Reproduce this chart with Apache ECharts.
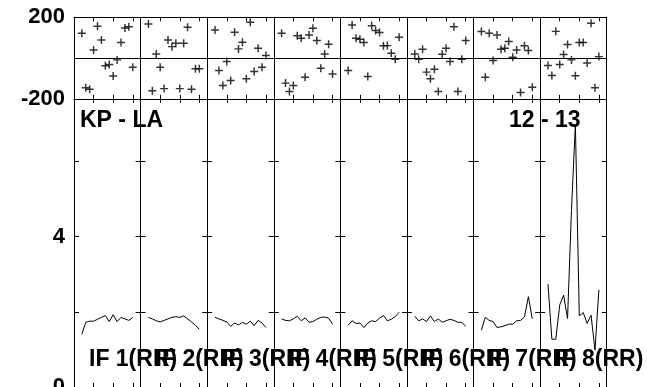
<!DOCTYPE html>
<html>
<head>
<meta charset="utf-8">
<script src="https://cdn.jsdelivr.net/npm/echarts@6/dist/echarts.min.js"></script>
<style>
html, body { margin: 0; padding: 0; background: #fff; }
#main { width: 647px; height: 387px; }
</style>
</head>
<body>
<div id="main"></div>
<script>
// channels plotted in every IF box
var channels = [2, 3, 4, 5, 6, 7, 8, 9, 10, 11, 12, 13, 14, 15];
var ifLabels = ['IF 1(RR)', 'IF 2(RR)', 'IF 3(RR)', 'IF 4(RR)', 'IF 5(RR)', 'IF 6(RR)', 'IF 7(RR)', 'IF 8(RR)'];
var baselineLabel = 'KP - LA';
var timeLabel = '12 - 13';

// phase (degrees) per channel, one array per IF
var phase1 = [122, -146, -153, 40, 156, 89, -38, -32, -88, -9, 76, 148, 154, -45];
var phase2 = [167, -160, 20, -45, -150, 89, 56, 73, -150, 73, 151, -153, -52, -52];
var phase3 = [138, -61, -135, -17, -110, 127, 45, 78, -102, 176, -66, 48, -45, 12];
var phase4 = [122, -123, -164, -135, 109, 97, -94, 113, 146, 86, -50, 20, 68, -78];
var phase5 = [-61, 162, 97, 92, 76, -91, 158, 135, 125, 60, 61, 24, -6, 102];
var phase6 = [20, -6, 43, -69, -102, -55, -164, 19, 48, -17, 154, -164, -6, 86];
var phase7 = [130, -94, 122, -12, 113, 43, 48, 81, 4, 40, -169, 60, 37, -143];
var phase8 = [-37, -86, 131, -32, 17, 66, -9, -87, 76, 76, -24, 171, -146, 7];

// amplitude per channel, one array per IF
var amp1 = [1.40, 1.72, 1.75, 1.75, 1.80, 1.85, 1.90, 1.74, 1.92, 1.74, 1.85, 1.81, 1.77, 1.85];
var amp2 = [1.85, 1.81, 1.76, 1.73, 1.77, 1.81, 1.85, 1.87, 1.85, 1.89, 1.81, 1.73, 1.64, 1.53];
var amp3 = [1.85, 1.81, 1.77, 1.73, 1.61, 1.70, 1.65, 1.72, 1.67, 1.75, 1.63, 1.77, 1.70, 1.58];
var amp4 = [1.81, 1.77, 1.76, 1.81, 1.88, 1.76, 1.84, 1.72, 1.74, 1.80, 1.85, 1.86, 1.83, 1.67];
var amp5 = [1.64, 1.76, 1.69, 1.70, 1.58, 1.70, 1.76, 1.74, 1.83, 1.90, 1.76, 1.80, 1.87, 1.99];
var amp6 = [1.88, 1.76, 1.81, 1.74, 1.89, 1.74, 1.81, 1.72, 1.76, 1.80, 1.77, 1.72, 1.72, 1.61];
var amp7 = [1.51, 1.85, 1.77, 1.74, 1.58, 1.60, 1.63, 1.67, 1.67, 1.76, 1.77, 1.86, 2.40, 1.81];
var amp8 = [2.74, 1.27, 1.27, 2.18, 2.44, 1.82, 4.69, 6.98, 1.89, 1.98, 1.69, 1.91, 0.98, 2.58];

var phases = [phase1, phase2, phase3, phase4, phase5, phase6, phase7, phase8];
var amps = [amp1, amp2, amp3, amp4, amp5, amp6, amp7, amp8];

// axis ranges
var chanMin = 0, chanMax = 17, chanStep = 5;
var phaseMin = -200, phaseMax = 200, phaseStep = 200;
var ampMin = 0, ampMax = 7.66, ampStep = 2, ampLabelStep = 4;

var colLeft = 74, colW = 66.59;
var boldFont = 'bold 23px "Liberation Sans", Arial, sans-serif';
// "+" marker drawn as a filled cross
var plusPath = 'path://M0,2.45H2.45V0H3.55V2.45H6V3.55H3.55V6H2.45V3.55H0Z';

function pairs(xs, ys) {
    var out = [];
    for (var k = 0; k < xs.length; k++) {
        out.push([xs[k], ys[k]]);
    }
    return out;
}

// x axis of one box: ticks inside, no labels
function chanAxis(g, pos) {
    return {
        gridIndex: g, type: 'value', position: pos,
        min: chanMin, max: chanMax, interval: chanStep,
        axisLine: {show: true, onZero: false, lineStyle: {color: '#000', width: 1}},
        axisTick: {show: true, inside: true, length: 4, lineStyle: {color: '#000', width: 1}},
        axisLabel: {show: false},
        splitLine: {show: false}
    };
}

function valueAxis(g, pos, min, max, step, opts) {
    return {
        gridIndex: g, type: 'value', position: pos,
        min: min, max: max, interval: step,
        axisLine: {show: true, onZero: false, lineStyle: {color: '#000', width: 1}},
        axisTick: {show: opts.tick, inside: true, length: 5, lineStyle: {color: '#000', width: 1}},
        axisLabel: {
            show: opts.label, margin: 9, color: '#000',
            fontSize: 22, fontWeight: 'bold', fontFamily: 'Liberation Sans',
            formatter: opts.formatter
        },
        splitLine: {show: opts.split, lineStyle: {color: '#000', width: 1}}
    };
}

var grids = [], xAxes = [], yAxes = [], series = [], texts = [];

for (var i = 0; i < 8; i++) {
    var left = colLeft + i * colW;
    var gTop = 2 * i, gBot = 2 * i + 1;

    // phase box on top, amplitude box below
    grids.push({left: left, width: colW, top: 17.3, height: 81.5, outerBoundsMode: 'none'});
    grids.push({left: left, width: colW, top: 98.8, height: 288.2, outerBoundsMode: 'none'});

    xAxes.push(chanAxis(gTop, 'bottom'));  // 4i
    xAxes.push(chanAxis(gTop, 'top'));     // 4i+1
    xAxes.push(chanAxis(gBot, 'bottom'));  // 4i+2
    xAxes.push(chanAxis(gBot, 'top'));     // 4i+3

    yAxes.push(valueAxis(gTop, 'left', phaseMin, phaseMax, phaseStep, {
        tick: false, label: i === 0, split: true,
        formatter: function (v) { return v === 0 ? '' : String(v); }
    }));
    yAxes.push(valueAxis(gTop, 'right', phaseMin, phaseMax, phaseStep, {
        tick: false, label: false, split: false
    }));
    yAxes.push(valueAxis(gBot, 'left', ampMin, ampMax, ampStep, {
        tick: true, label: i === 0, split: false,
        formatter: function (v) { return v % ampLabelStep === 0 ? String(v) : ''; }
    }));
    yAxes.push(valueAxis(gBot, 'right', ampMin, ampMax, ampStep, {
        tick: true, label: false, split: false
    }));

    series.push({
        type: 'scatter',
        xAxisIndex: 4 * i, yAxisIndex: 4 * i,
        symbol: plusPath, symbolSize: 8,
        itemStyle: {color: '#000'},
        data: pairs(channels, phases[i])
    });
    series.push({
        type: 'line',
        xAxisIndex: 4 * i + 2, yAxisIndex: 4 * i + 2,
        showSymbol: false,
        lineStyle: {color: '#000', width: 1},
        data: pairs(channels, amps[i])
    });

    texts.push({
        type: 'text', left: left + 15, top: 348,
        style: {text: ifLabels[i], font: boldFont, fill: '#000'}
    });
}

texts.push({type: 'text', left: 80, top: 109, style: {text: baselineLabel, font: boldFont, fill: '#000'}});
texts.push({type: 'text', left: 509, top: 109, style: {text: timeLabel, font: boldFont, fill: '#000'}});

var myChart = echarts.init(document.getElementById('main'));
myChart.setOption({
    animation: false,
    backgroundColor: '#fff',
    grid: grids,
    xAxis: xAxes,
    yAxis: yAxes,
    series: series,
    graphic: texts
});
</script>
</body>
</html>
